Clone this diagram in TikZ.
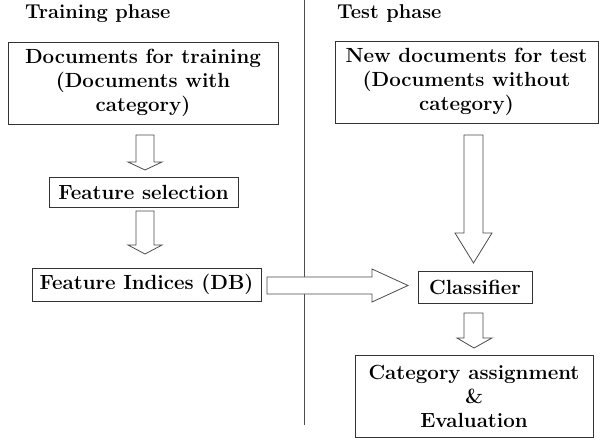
\documentclass[tikz,border=0pt]{standalone}
\begin{document}
\begin{tikzpicture}[x=1pt,y=-1pt,
  box/.style={draw=black!80,line width=0.9pt,align=center,inner sep=0pt,
    font=\fontsize{20.5}{24}\selectfont\bfseries},
  blk/.style={draw=black!70,line width=0.8pt,fill=white,line join=miter},
  title/.style={font=\fontsize{20}{22}\selectfont\bfseries,anchor=west,inner sep=0pt}]
\useasboundingbox (0,0) rectangle (600,438);
\node[title] (t1) at (25,14) {Training phase};
\node[title] (t2) at (337,14) {Test phase};
\draw[black!70,line width=0.9pt] (304,0) coordinate (l1) -- (304,425) coordinate (l2);
\node[box,minimum width=270,minimum height=82] (b1) at (143,83)
  {Documents for training\\(Documents with\\category)};
\node[box,minimum width=189,minimum height=30] (b2) at (143.5,192) {Feature selection};
\node[box,minimum width=229,minimum height=33] (b3) at (146.5,284.5) {Feature Indices (DB)};
\node[box,minimum width=263,minimum height=82] (b4) at (466.5,82)
  {New documents for test\\(Documents without\\category)};
\node[box,minimum width=114,minimum height=32] (b5) at (475,287) {Classifier};
\node[box,minimum width=238,minimum height=82] (b6) at (474,396)
  {Category assignment\\\&\\Evaluation};
% block arrows
\draw[blk] (136,135) -- (154,135) -- (154,162) -- (162,162) -- (145,170) -- (128,162) -- (136,162) -- cycle;
\draw[blk] (136,211) -- (154,211) -- (154,245) -- (162,245) -- (145,254) -- (128,245) -- (136,245) -- cycle;
\draw[blk] (464,135) -- (483,135) -- (483,233) -- (492,233) -- (473.5,263) -- (455,233) -- (464,233) -- cycle;
\draw[blk] (464,313) -- (483,313) -- (483,338) -- (492,338) -- (474,348) -- (457,338) -- (464,338) -- cycle;
\draw[blk] (267,277) -- (372,277) -- (372,269) -- (408,285.5) -- (372,302) -- (372,294) -- (267,294) -- cycle;
\end{tikzpicture}
\end{document}
